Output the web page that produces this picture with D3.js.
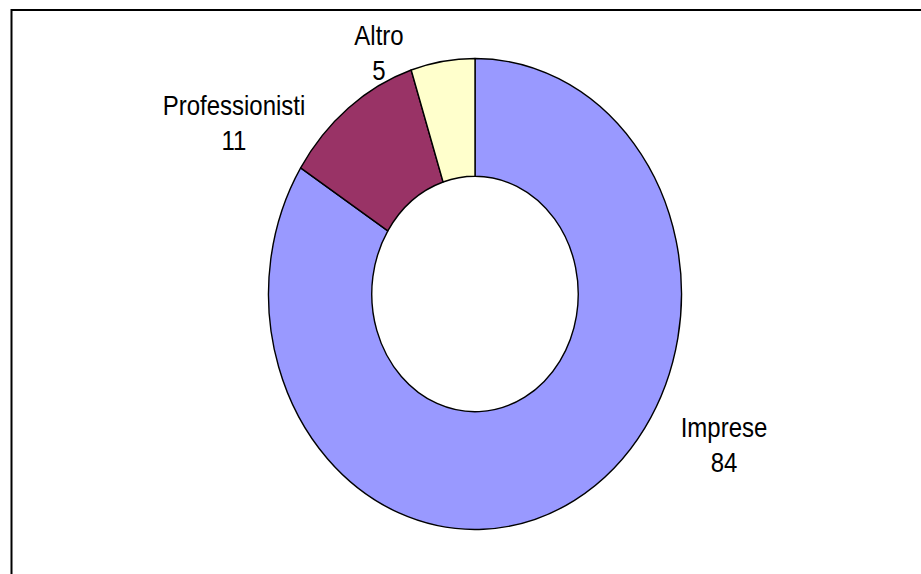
<!DOCTYPE html>
<html>
<head>
<meta charset="utf-8">
<script src="https://cdn.jsdelivr.net/npm/d3@7"></script>
<style>
  html, body { margin: 0; padding: 0; background: #fff; }
  svg { display: block; }
  text { font-family: "Liberation Sans", Arial, sans-serif; fill: #000; }
</style>
</head>
<body>
<svg id="chart" width="921" height="574"></svg>
<script>
// ---- data ----
const categories = ["Imprese", "Professionisti", "Altro"];
const values = [84, 11, 5];
const colors = ["#9999FF", "#993366", "#FFFFCC"];

// ---- layout ----
const W = 921, H = 574;
const cx = 475, cy = 294;
const rx = 206.5, ry = 235.5;          // ellipse radii of the outer ring
const innerRatio = 0.5;
const vScale = ry / rx;
// label block anchors (relative to center, screen px: x center, baseline of first line)
const labelLayout = [
  { dx: 249, dy: 143 },   // Imprese
  { dx: -241, dy: -179 }, // Professionisti
  { dx: -96, dy: -249 }   // Altro
];
const lineGap = 35;
const fontSize = 24;
const textVScale = 1.15;

const svg = d3.select("#chart");

// frame
svg.append("path")
  .attr("d", `M11.5,${H} V10 H${W}`)
  .attr("fill", "none")
  .attr("stroke", "#000")
  .attr("stroke-width", 2);

const pie = d3.pie().sort(null).value(d => d.value);
const data = categories.map((c, i) => ({ name: c, value: values[i], color: colors[i] }));
const arcs = pie(data);

const arc = d3.arc().innerRadius(rx * innerRatio).outerRadius(rx);

const g = svg.append("g")
  .attr("transform", `translate(${cx},${cy}) scale(1,${vScale})`);

g.selectAll("path.slice")
  .data(arcs)
  .join("path")
  .attr("class", "slice")
  .attr("d", arc)
  .attr("fill", d => d.data.color)
  .attr("stroke", "#000")
  .attr("stroke-width", 1.4)
  .attr("stroke-linejoin", "round")
  .attr("vector-effect", "non-scaling-stroke");

// labels
const lg = svg.append("g").attr("transform", `translate(${cx},${cy})`);
arcs.forEach((a, i) => {
  const L = labelLayout[i];
  const t = lg.append("g")
    .attr("transform", `translate(${L.dx},${L.dy}) scale(1,${textVScale})`);
  t.append("text")
    .attr("text-anchor", "middle")
    .attr("font-size", fontSize)
    .attr("y", 0)
    .text(a.data.name);
  t.append("text")
    .attr("text-anchor", "middle")
    .attr("font-size", fontSize)
    .attr("y", lineGap / textVScale)
    .text(d3.format("d")(a.data.value));
});
</script>
</body>
</html>
